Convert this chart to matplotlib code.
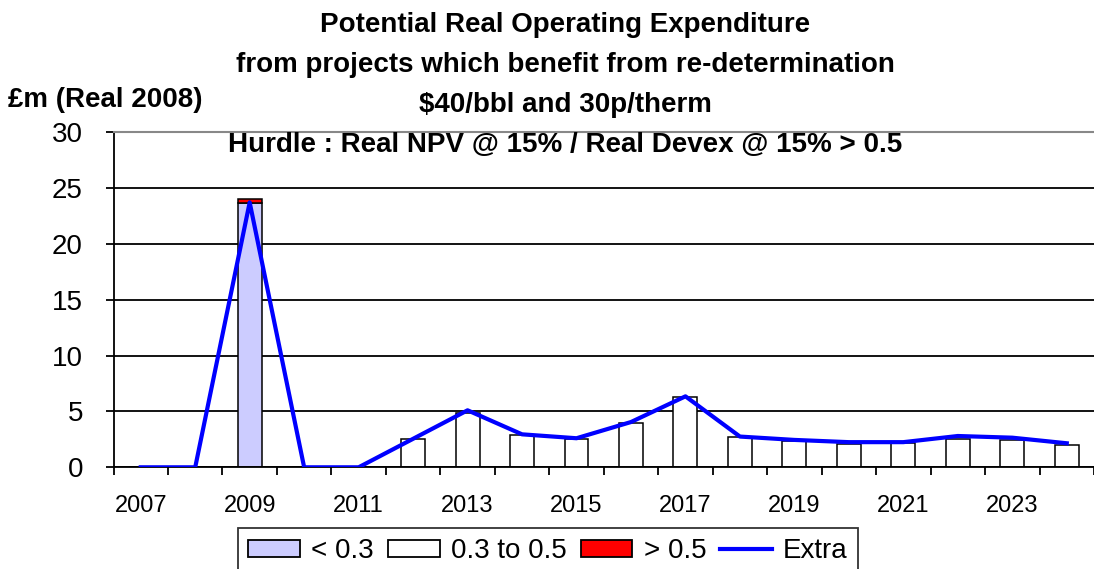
import numpy as np
import matplotlib.pyplot as plt
from matplotlib.patches import Patch
from matplotlib.lines import Line2D

plt.rcParams['font.family'] = ['Liberation Sans', 'DejaVu Sans']

years = np.arange(2007, 2025)
below_03 = [0, 0, 23.65, 0, 0, 0, 0, 0, 0, 0, 0, 0, 0, 0, 0, 0, 0, 0]
mid_03_05 = [0, 0, 0, 0, 0, 2.5, 4.9, 2.85, 2.5, 3.95, 6.25, 2.7, 2.35, 2.1, 2.15, 2.55, 2.45, 2.0]
above_05 = [0, 0, 0.35, 0, 0, 0, 0, 0, 0, 0, 0, 0, 0, 0, 0, 0, 0, 0]
extra = [0, 0, 23.7, 0, 0, 2.55, 5.1, 2.95, 2.6, 4.05, 6.35, 2.75, 2.45, 2.25, 2.25, 2.8, 2.65, 2.15]

W, H = 1094, 569
fig = plt.figure(figsize=(W / 100, H / 100), dpi=100)
ax = fig.add_axes([113.5 / W, 1 - 467.3 / H, 1 - 113.5 / W, (467.3 - 132) / H])

x = np.arange(len(years))
w = 0.44
b1 = np.array(below_03)
b2 = np.array(mid_03_05)
b3 = np.array(above_05)
edge = dict(edgecolor='black', linewidth=1.1)
ax.bar(x, b1, w, color='#ccccff', **edge)
ax.bar(x[b2 > 0], b2[b2 > 0], w, bottom=b1[b2 > 0], color='white', **edge)
ax.bar(x[b3 > 0], b3[b3 > 0], w, bottom=(b1 + b2)[b3 > 0], color='red', **edge)
ax.plot(x, extra, color='blue', lw=3, zorder=5)

ax.set_ylim(0, 30)
ax.set_xlim(-0.5, 17.31)
ax.set_yticks(np.arange(0, 31, 5))
ax.yaxis.grid(True, color='black', lw=1.3)
ax.set_axisbelow(True)
ax.tick_params(axis='y', labelsize=20, length=6, width=1.3, direction='out', pad=16)

# boundary ticks without labels, year labels on every other category centre
ax.set_xticks(np.arange(-0.5, 18, 1))
ax.set_xticklabels([])
ax.set_xticks(x[::2], minor=True)
ax.set_xticklabels([str(y) for y in years[::2]], minor=True, fontsize=17)
ax.tick_params(axis='x', which='major', length=6, width=1.3, direction='out')
ax.tick_params(axis='x', which='minor', length=0, pad=20)

ax.spines['right'].set_visible(False)
ax.spines['top'].set_color('#888888')
ax.spines['top'].set_linewidth(1.5)
ax.spines['left'].set_linewidth(1.3)
ax.spines['bottom'].set_linewidth(1.3)

cx = 565 / W
title_font = dict(ha='center', va='baseline', fontsize=20, fontweight='bold')
fig.text(cx, 1 - 32 / H, 'Potential Real Operating Expenditure', **title_font)
fig.text(cx, 1 - 72 / H, 'from projects which benefit from re-determination', **title_font)
fig.text(cx, 1 - 112 / H, '$40/bbl and 30p/therm', **title_font)
fig.text(cx, 1 - 152 / H, 'Hurdle : Real NPV @ 15% / Real Devex @ 15% > 0.5', **title_font)
fig.text(8 / W, 1 - 107 / H, '£m (Real 2008)', ha='left', va='baseline',
         fontsize=20, fontweight='bold')

handles = [Patch(facecolor='#ccccff', edgecolor='black', lw=1.3, label='< 0.3'),
           Patch(facecolor='white', edgecolor='black', lw=1.3, label='0.3 to 0.5'),
           Patch(facecolor='red', edgecolor='black', lw=1.3, label='> 0.5'),
           Line2D([], [], color='blue', lw=3, label='Extra')]
leg = fig.legend(handles=handles, loc='upper center', bbox_to_anchor=(548 / W, 1 - 528 / H), ncol=4,
                 fontsize=20, frameon=True, fancybox=False, edgecolor='black',
                 handlelength=1.87, handleheight=0.58, handletextpad=0.4, columnspacing=0.5,
                 borderpad=0.36, borderaxespad=0)
leg.get_frame().set_linewidth(1.3)

fig.savefig('out.png', dpi=100)
